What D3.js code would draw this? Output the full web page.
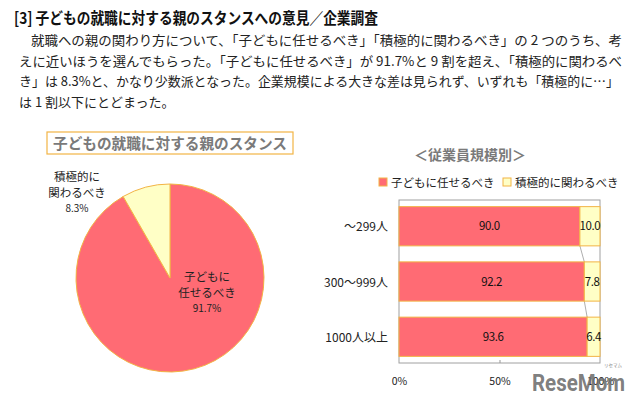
<!DOCTYPE html>
<html>
<head>
<meta charset="utf-8">
<script src="https://cdn.jsdelivr.net/npm/d3@7"></script>
<style>
  body { margin: 0; background: #fff; }
  svg { display: block; font-family: "Noto Sans CJK JP", "Noto Sans", sans-serif; }
</style>
</head>
<body>
<svg id="chart" width="640" height="405"></svg>
<script>
// Overall answer shares (pie)
const stanceLabels = ["子どもに任せるべき", "積極的に関わるべき"];
const stanceShares = [91.7, 8.3];

// By company size (stacked bars)
const sizeGroups = ["～299人", "300～999人", "1000人以上"];
const leaveToChild = [90.0, 92.2, 93.6];
const getInvolved = [10.0, 7.8, 6.4];
const axisTicks = [0, 50, 100];

const bodyLines = [
    "就職への親の関わり方について、「子どもに任せるべき」「積極的に関わるべき」の 2 つのうち、考",
    "えに近いほうを選んでもらった。「子どもに任せるべき」が 91.7%と 9 割を超え、「積極的に関わるべ",
    "き」は 8.3%と、かなり少数派となった。企業規模による大きな差は見られず、いずれも「積極的に…」",
    "は 1 割以下にとどまった。"
];

const RED = "#ff6b74";
const YELLOW = "#ffffc6";
const EDGE = "#f2b445";

const svg = d3.select("#chart");

// Heading + paragraph
svg.append("text")
    .attr("x", 14).attr("y", 24)
    .attr("font-size", 16).attr("font-weight", "bold").attr("fill", "#111")
    .attr("textLength", 364).attr("lengthAdjust", "spacingAndGlyphs")
    .text("[3] 子どもの就職に対する親のスタンスへの意見／企業調査");

const lineEnds = [622, 622, 619, null];
svg.append("g").selectAll("text")
    .data(bodyLines)
    .join("text")
    .attr("x", (d, i) => i === 0 ? 31 : 19)
    .attr("y", (d, i) => 45 + i * 20.5)
    .attr("font-size", 13).attr("fill", "#222")
    .each(function(d, i) {
        if (lineEnds[i]) {
            d3.select(this)
                .attr("textLength", lineEnds[i] - (i === 0 ? 31 : 19))
                .attr("lengthAdjust", "spacingAndGlyphs");
        }
    })
    .text(d => d);

// Pie title box
svg.append("rect")
    .attr("x", 47).attr("y", 132).attr("width", 246).attr("height", 22)
    .attr("fill", "#fff").attr("stroke", EDGE).attr("stroke-width", 1.2);
svg.append("text")
    .attr("x", 170).attr("y", 149)
    .attr("text-anchor", "middle")
    .attr("font-size", 15).attr("font-weight", "bold").attr("fill", "#7a7a7a")
    .attr("textLength", 234).attr("lengthAdjust", "spacingAndGlyphs")
    .text("子どもの就職に対する親のスタンス");

// Pie
const pieCx = 170, pieCy = 278, pieR = 94;
const pieData = d3.pie().sort(null)
    .startAngle(0).endAngle(2 * Math.PI)(stanceShares);
const arc = d3.arc().innerRadius(0).outerRadius(pieR);

const pieG = svg.append("g").attr("transform", `translate(${pieCx},${pieCy})`);
pieG.selectAll("path")
    .data(pieData)
    .join("path")
    .attr("d", arc)
    .attr("fill", (d, i) => i === 0 ? RED : YELLOW)
    .attr("stroke", EDGE).attr("stroke-width", 1);

// Pie labels
const pieLabels = [
    { x: 207, y: 281, lines: ["子どもに", "任せるべき"], pct: stanceShares[0] },
    { x: 77, y: 181, lines: ["積極的に", "関わるべき"], pct: stanceShares[1] }
];
pieLabels.forEach(lab => {
    const t = svg.append("text")
        .attr("text-anchor", "middle").attr("fill", "#222");
    lab.lines.forEach((ln, j) => {
        t.append("tspan").attr("x", lab.x).attr("y", lab.y + j * 16)
            .attr("font-size", 11.5).text(ln);
    });
    t.append("tspan").attr("x", lab.x).attr("y", lab.y + 31)
        .attr("font-size", 10).text(lab.pct.toFixed(1) + "%");
});

// Bar chart subtitle + legend
svg.append("text")
    .attr("x", 470).attr("y", 160)
    .attr("text-anchor", "middle")
    .attr("font-size", 14).attr("font-weight", "bold").attr("fill", "#7a7a7a")
    .text("＜従業員規模別＞");

const legend = svg.append("g").attr("transform", "translate(379,183)");
const legendItems = [
    { label: stanceLabels[0], fill: RED, x: 0 },
    { label: stanceLabels[1], fill: YELLOW, x: 124 }
];
legendItems.forEach(it => {
    legend.append("rect")
        .attr("x", it.x).attr("y", -5).attr("width", 8).attr("height", 8)
        .attr("fill", it.fill).attr("stroke", EDGE).attr("stroke-width", 1);
    legend.append("text")
        .attr("x", it.x + 12).attr("y", 4)
        .attr("font-size", 11.5).attr("fill", "#222")
        .text(it.label);
});

// Stacked bars
const plot = { left: 399, right: 600, top: 200, bottom: 363 };
const x = d3.scaleLinear().domain([0, 100]).range([plot.left, plot.right]);
const y = d3.scaleBand().domain(sizeGroups)
    .range([plot.top, plot.bottom]).paddingInner(0.29).paddingOuter(0.12);

svg.append("rect")
    .attr("x", plot.left).attr("y", plot.top)
    .attr("width", plot.right - plot.left).attr("height", plot.bottom - plot.top)
    .attr("fill", "none").attr("stroke", "#a0a0a0").attr("stroke-width", 1);

// series lines between bars
const connect = svg.append("g").attr("stroke", "#999").attr("stroke-width", 0.8);
for (let i = 0; i < sizeGroups.length - 1; i++) {
    connect.append("line")
        .attr("x1", x(leaveToChild[i])).attr("y1", y(sizeGroups[i]) + y.bandwidth())
        .attr("x2", x(leaveToChild[i + 1])).attr("y2", y(sizeGroups[i + 1]));
}

const bars = svg.append("g");
sizeGroups.forEach((g, i) => {
    const segs = [
        { x0: 0, x1: leaveToChild[i], fill: RED, v: leaveToChild[i] },
        { x0: leaveToChild[i], x1: leaveToChild[i] + getInvolved[i], fill: YELLOW, v: getInvolved[i] }
    ];
    segs.forEach(s => {
        bars.append("rect")
            .attr("x", x(s.x0)).attr("y", y(g))
            .attr("width", x(s.x1) - x(s.x0)).attr("height", y.bandwidth())
            .attr("fill", s.fill).attr("stroke", EDGE).attr("stroke-width", 1);
        bars.append("text")
            .attr("x", (x(s.x0) + x(s.x1)) / 2).attr("y", y(g) + y.bandwidth() / 2 + 4)
            .attr("text-anchor", "middle").attr("font-size", 11.5).attr("fill", "#111")
            .attr("letter-spacing", -0.4)
            .text(s.v.toFixed(1));
    });
});

// category labels
svg.append("g").selectAll("text")
    .data(sizeGroups)
    .join("text")
    .attr("x", 388)
    .attr("y", d => y(d) + y.bandwidth() / 2 + 5)
    .attr("text-anchor", "end").attr("font-size", 12).attr("fill", "#222")
    .text(d => d);

// x axis
const xAxis = svg.append("g")
    .attr("transform", `translate(0,${plot.bottom})`)
    .call(d3.axisBottom(x).tickValues(axisTicks).tickSize(-3).tickFormat(d => d + "%"));
xAxis.select(".domain").remove();
xAxis.selectAll(".tick line").attr("stroke", "#999")
    .filter(d => d !== 50).remove();
xAxis.selectAll(".tick text")
    .attr("y", 15).attr("font-size", 10.5).attr("fill", "#222")
    .attr("font-family", "'Noto Sans CJK JP', sans-serif");

// watermark
svg.append("text")
    .attr("x", 532).attr("y", 391)
    .attr("font-family", "Roboto, 'Liberation Sans', sans-serif")
    .attr("font-size", 24).attr("font-weight", "bold")
    .attr("fill", "#6e6e6e").attr("fill-opacity", 0.9)
    .attr("textLength", 93).attr("lengthAdjust", "spacingAndGlyphs")
    .text("ReseMom");
svg.append("text")
    .attr("x", 604).attr("y", 367)
    .attr("font-size", 4.5).attr("fill", "#888")
    .text("リセマム");
</script>
</body>
</html>
